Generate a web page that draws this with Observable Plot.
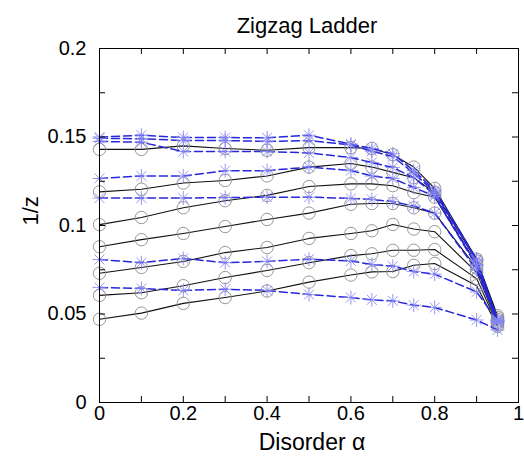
<!DOCTYPE html>
<html>
<head>
<meta charset="utf-8">
<script src="https://cdn.jsdelivr.net/npm/d3@7"></script>
<script src="https://cdn.jsdelivr.net/npm/@observablehq/plot@0.6"></script>
<style>
  html, body { margin: 0; padding: 0; background: #fff; }
  #chart svg { font-family: "Liberation Sans", Arial, Helvetica, sans-serif; color: black; }
</style>
</head>
<body>
<div id="chart"></div>
<script>
// Disorder values (x)
const xs = [0, 0.1, 0.2, 0.3, 0.4, 0.5, 0.6, 0.65, 0.7, 0.75, 0.8, 0.9, 0.95];

// Black solid series (grey open circles)
const black1 = [0.143, 0.143, 0.145, 0.1435, 0.1425, 0.144, 0.144, 0.1435, 0.140, 0.133, 0.121, 0.081, 0.049];
const black2 = [0.119, 0.1205, 0.124, 0.1254, 0.128, 0.133, 0.135, 0.133, 0.130, 0.127, 0.1186, 0.080, 0.048];
const black3 = [0.1005, 0.1045, 0.110, 0.114, 0.117, 0.122, 0.1235, 0.1235, 0.1225, 0.1186, 0.116, 0.078, 0.047];
const black4 = [0.088, 0.092, 0.0955, 0.0994, 0.1034, 0.107, 0.112, 0.1124, 0.1124, 0.110, 0.107, 0.076, 0.046];
const black5 = [0.073, 0.0763, 0.0797, 0.0847, 0.0876, 0.0927, 0.0955, 0.097, 0.1006, 0.098, 0.0965, 0.0735, 0.045];
const black6 = [0.0605, 0.062, 0.066, 0.0706, 0.0746, 0.079, 0.083, 0.084, 0.086, 0.086, 0.0864, 0.070, 0.044];
const black7 = [0.047, 0.0505, 0.056, 0.0593, 0.063, 0.068, 0.072, 0.0738, 0.074, 0.0775, 0.0785, 0.066, 0.043];

// Blue dashed series (asterisks)
const blue1 = [0.150, 0.151, 0.1497, 0.1497, 0.1495, 0.151, 0.146, 0.1435, 0.1405, 0.131, 0.120, 0.081, 0.047];
const blue2 = [0.1493, 0.149, 0.148, 0.148, 0.1475, 0.148, 0.1455, 0.142, 0.139, 0.1295, 0.119, 0.080, 0.046];
const blue3 = [0.1475, 0.147, 0.1418, 0.1418, 0.1418, 0.141, 0.1384, 0.1356, 0.1328, 0.127, 0.1175, 0.078, 0.046];
const blue4 = [0.1266, 0.128, 0.128, 0.131, 0.131, 0.133, 0.131, 0.128, 0.1266, 0.1215, 0.1165, 0.077, 0.0455];
const blue5 = [0.1155, 0.1155, 0.1155, 0.1158, 0.116, 0.116, 0.1153, 0.1147, 0.1135, 0.111, 0.107, 0.075, 0.045];
const blue6 = [0.0808, 0.079, 0.0814, 0.079, 0.0797, 0.081, 0.080, 0.078, 0.077, 0.074, 0.0725, 0.0625, 0.0463];
const blue7 = [0.065, 0.0644, 0.0633, 0.064, 0.0633, 0.061, 0.0593, 0.058, 0.0574, 0.055, 0.0537, 0.0466, 0.041];

// Tick values
const xTickLabels = [0, 0.2, 0.4, 0.6, 0.8, 1];
const xTickMarks = [0, 0.1, 0.2, 0.3, 0.4, 0.5, 0.6, 0.7, 0.8, 0.9, 1];
const yTickLabels = [0, 0.05, 0.1, 0.15, 0.2];
const yTickMarks = [0, 0.025, 0.05, 0.075, 0.1, 0.125, 0.15, 0.175, 0.2];

const blackSeries = [black1, black2, black3, black4, black5, black6, black7];
const blueSeries = [blue1, blue2, blue3, blue4, blue5, blue6, blue7];

const toRows = (series) => series.flatMap((vals, i) => vals.map((v, j) => ({x: xs[j], y: v, s: i})));
const blackRows = toRows(blackSeries);
const blueRows = toRows(blueSeries);

// 8-armed asterisk like MATLAB '*'
const star8 = {
  draw(ctx, size) {
    const r = Math.sqrt(size / Math.PI);
    const d = r * Math.SQRT1_2;
    ctx.moveTo(-r, 0); ctx.lineTo(r, 0);
    ctx.moveTo(0, -r); ctx.lineTo(0, r);
    ctx.moveTo(-d, -d); ctx.lineTo(d, d);
    ctx.moveTo(-d, d); ctx.lineTo(d, -d);
  }
};

const W = 524, H = 456;
const mL = 99, mR = 6, mT = 48, mB = 54;
const innerW = W - mL - mR, innerH = H - mT - mB;
const tl = 6;

const chart = Plot.plot({
  width: W,
  height: H,
  marginLeft: mL,
  marginRight: mR,
  marginTop: mT,
  marginBottom: mB,
  x: {domain: [0, 1]},
  y: {domain: [0, 0.2]},
  style: {fontSize: "20px", fontFamily: "Liberation Sans, Arial, sans-serif", background: "white", color: "black"},
  marks: [
    Plot.line(blackRows, {x: "x", y: "y", z: "s", stroke: "#111", strokeWidth: 1.1}),
    Plot.dot(blackRows, {x: "x", y: "y", r: 6.2, fill: "none", stroke: "#8c8c8c", strokeWidth: 0.9}),
    Plot.line(blueRows, {x: "x", y: "y", z: "s", stroke: "#2626dc", strokeWidth: 1.5, strokeDasharray: "8,4"}),
    Plot.dot(blueRows, {x: "x", y: "y", r: 7, symbol: star8, fill: "none", stroke: "#8585f2", strokeWidth: 0.85}),
    // inward ticks on all four sides
    Plot.tickX(xTickMarks, {x: (d) => d, insetTop: innerH - tl, stroke: "black"}),
    Plot.tickX(xTickMarks, {x: (d) => d, insetBottom: innerH - tl, stroke: "black"}),
    Plot.tickY(yTickMarks, {y: (d) => d, insetRight: innerW - tl, stroke: "black"}),
    Plot.tickY(yTickMarks, {y: (d) => d, insetLeft: innerW - tl, stroke: "black"}),
    Plot.axisX(xTickLabels, {tickSize: 0, tickPadding: 3, fontSize: 20, label: null, fill: "black", tickFormat: (d) => String(d)}),
    Plot.axisY(yTickLabels, {tickSize: 0, tickPadding: 13, fontSize: 20, label: null, fill: "black", tickFormat: (d) => String(d)}),
    Plot.frame({stroke: "black", strokeWidth: 1}),
    Plot.text(["Zigzag Ladder"], {frameAnchor: "top", dy: -16, dx: -2, lineAnchor: "bottom", fontSize: 22, fill: "black"}),
    Plot.text(["Disorder α"], {frameAnchor: "bottom", dy: 47, dx: 3, lineAnchor: "bottom", fontSize: 23, fill: "black"}),
    Plot.text(["1/z"], {frameAnchor: "left", dx: -69, rotate: -90, fontSize: 22, fill: "black"})
  ]
});
document.getElementById("chart").appendChild(chart);
</script>
</body>
</html>
